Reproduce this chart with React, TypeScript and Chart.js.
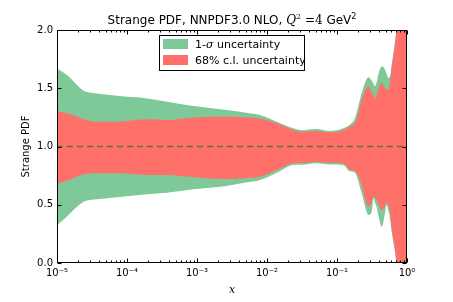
import { useEffect, useRef } from "react";
import { Chart, registerables } from "chart.js";
Chart.register(...registerables);

// log10(x) sample positions
const xLog10 = [-5.0, -4.857, -4.714, -4.62, -4.43, -4.14, -3.71, -3.43, -3.05, -2.58, -2.30, -2.10, -1.86, -1.62, -1.50, -1.31, -1.10, -0.91, -0.81, -0.743, -0.647, -0.55, -0.50, -0.48, -0.457, -0.43, -0.41, -0.36, -0.314, -0.29, -0.267, -0.243, -0.219, -0.171, -0.148, -0.10, 0.0];
const sigmaUpper = [1.67, 1.614, 1.528, 1.479, 1.456, 1.436, 1.413, 1.385, 1.348, 1.313, 1.29, 1.27, 1.213, 1.156, 1.14, 1.15, 1.133, 1.156, 1.19, 1.245, 1.46, 1.594, 1.56, 1.54, 1.517, 1.56, 1.616, 1.688, 1.66, 1.62, 1.588, 1.60, 1.70, 1.90, 2.02, 2.3, 2.8];
const clUpper = [1.30, 1.285, 1.256, 1.233, 1.213, 1.213, 1.233, 1.227, 1.25, 1.256, 1.25, 1.24, 1.199, 1.142, 1.126, 1.136, 1.122, 1.14, 1.175, 1.20, 1.40, 1.517, 1.46, 1.44, 1.416, 1.45, 1.50, 1.545, 1.50, 1.49, 1.488, 1.55, 1.68, 1.88, 2.0, 2.3, 2.8];
const clLower = [0.684, 0.707, 0.741, 0.761, 0.77, 0.77, 0.755, 0.755, 0.736, 0.721, 0.73, 0.741, 0.798, 0.856, 0.858, 0.87, 0.861, 0.855, 0.80, 0.79, 0.67, 0.483, 0.53, 0.569, 0.56, 0.541, 0.51, 0.455, 0.49, 0.526, 0.49, 0.44, 0.30, 0.11, -0.01, -0.3, -0.8];
const sigmaLower = [0.326, 0.40, 0.483, 0.526, 0.547, 0.564, 0.59, 0.604, 0.633, 0.661, 0.69, 0.712, 0.775, 0.841, 0.843, 0.856, 0.846, 0.84, 0.785, 0.775, 0.598, 0.412, 0.45, 0.555, 0.52, 0.47, 0.41, 0.31, 0.43, 0.498, 0.45, 0.384, 0.269, 0.097, -0.02, -0.3, -0.8];

const centralX = [1e-5, 1];
const centralY = [1.0, 1.0];

const xTickValues = [1e-5, 1e-4, 1e-3, 1e-2, 1e-1, 1];
const xTickLabels = ["10\u207B\u2075", "10\u207B\u2074", "10\u207B\u00B3", "10\u207B\u00B2", "10\u207B\u00B9", "10\u2070"];
const xMinorMultipliers = [2, 3, 4, 5, 6, 7, 8, 9];
const yTickValues = [0, 0.5, 1.0, 1.5, 2.0];

const legendLabels = ["1-", "68% c.l. uncertainty"];

const GREEN = "rgb(127,201,153)";
const RED = "rgb(255,112,106)";
const DASH = "rgb(88,122,36)";
const SANS = "'DejaVu Sans', sans-serif";
const SERIF = "'DejaVu Serif', serif";

function pts(ys: number[]) {
  return xLog10.map((lx, i) => ({ x: Math.pow(10, lx), y: ys[i] }));
}

function drawSegments(ctx: CanvasRenderingContext2D, segs: { t: string; f: string; dy?: number }[], x: number, y: number, align: "center" | "left") {
  let total = 0;
  for (const s of segs) { ctx.font = s.f; total += ctx.measureText(s.t).width; }
  let cx = align === "center" ? x - total / 2 : x;
  ctx.textAlign = "left";
  ctx.textBaseline = "alphabetic";
  for (const s of segs) {
    ctx.font = s.f;
    ctx.fillText(s.t, cx, y + (s.dy || 0));
    cx += ctx.measureText(s.t).width;
  }
}

const decor = {
  id: "decor",
  afterDraw(chart: any) {
    const { ctx, chartArea: a, scales } = chart;
    const xs = scales.x, ys = scales.y;
    ctx.save();
    ctx.strokeStyle = "#000";
    ctx.lineWidth = 1;
    const L = Math.round(a.left) + 0.5, R = Math.round(a.right) - 0.5;
    const T = Math.round(a.top) + 0.5, B = Math.round(a.bottom) - 0.5;
    ctx.strokeRect(L, T, R - L, B - T);
    ctx.beginPath();
    for (const v of xTickValues) {
      const p = Math.round(xs.getPixelForValue(v)) + 0.5;
      ctx.moveTo(p, B); ctx.lineTo(p, B - 4);
      ctx.moveTo(p, T); ctx.lineTo(p, T + 4);
    }
    for (let d = -5; d < 0; d++) {
      for (const m of xMinorMultipliers) {
        const p = Math.round(xs.getPixelForValue(m * Math.pow(10, d))) + 0.5;
        ctx.moveTo(p, B); ctx.lineTo(p, B - 2);
        ctx.moveTo(p, T); ctx.lineTo(p, T + 2);
      }
    }
    for (const v of yTickValues) {
      const p = Math.round(ys.getPixelForValue(v)) + 0.5;
      ctx.moveTo(L, p); ctx.lineTo(L + 4, p);
      ctx.moveTo(R, p); ctx.lineTo(R - 4, p);
    }
    ctx.stroke();

    // title
    ctx.fillStyle = "#000";
    const cx = (a.left + a.right) / 2;
    drawSegments(ctx, [
      { t: "Strange PDF, NNPDF3.0 NLO, ", f: `12px ${SANS}` },
      { t: "Q", f: `italic 12px ${SERIF}` },
      { t: "2", f: `8px ${SERIF}`, dy: -5 },
      { t: " =", f: `12px ${SERIF}` },
      { t: "4", f: `12px ${SERIF}` },
      { t: " GeV", f: `12px ${SANS}` },
      { t: "2", f: `8px ${SANS}`, dy: -5 },
    ], cx, 24, "center");

    // axis titles
    ctx.font = `italic 11px ${SERIF}`;
    ctx.textAlign = "center";
    ctx.textBaseline = "middle";
    ctx.fillText("x", cx, 290);
    ctx.save();
    ctx.translate(26, (a.top + a.bottom) / 2);
    ctx.rotate(-Math.PI / 2);
    ctx.font = `10px ${SANS}`;
    ctx.fillText("Strange PDF", 0, 0);
    ctx.restore();

    // legend
    ctx.fillStyle = "#fff";
    ctx.fillRect(159.5, 35.5, 145, 35);
    ctx.strokeRect(159.5, 35.5, 145, 35);
    ctx.fillStyle = GREEN;
    ctx.fillRect(163, 39, 25, 10);
    ctx.fillStyle = RED;
    ctx.fillRect(163, 55, 25, 10);
    ctx.fillStyle = "#000";
    drawSegments(ctx, [
      { t: legendLabels[0], f: `11px ${SANS}` },
      { t: "\u03C3", f: `italic 11px ${SERIF}` },
      { t: " uncertainty", f: `11px ${SANS}` },
    ], 195, 48, "left");
    drawSegments(ctx, [{ t: legendLabels[1], f: `11px ${SANS}` }], 195, 64, "left");
    ctx.restore();
  },
};

export default function App() {
  const ref = useRef<HTMLCanvasElement>(null);
  useEffect(() => {
    document.body.style.margin = "0";
    const base = { pointRadius: 0, borderWidth: 0, borderColor: "rgba(0,0,0,0)", cubicInterpolationMode: "monotone" as const };
    const chart = new Chart(ref.current!, {
      type: "line",
      data: {
        datasets: [
          {
            label: "central", data: centralX.map((x, i) => ({ x, y: centralY[i] })),
            borderColor: DASH, borderWidth: 1.5, borderDash: [6, 4], pointRadius: 0, fill: false, order: 0,
          },
          { ...base, label: "68% c.l. uncertainty", data: pts(clUpper), fill: "+1", backgroundColor: RED, order: 1 },
          { ...base, label: "cl lower", data: pts(clLower), fill: false, order: 1 },
          { ...base, label: "1-sigma uncertainty", data: pts(sigmaUpper), fill: "+1", backgroundColor: GREEN, order: 2 },
          { ...base, label: "sigma lower", data: pts(sigmaLower), fill: false, order: 2 },
        ] as any,
      },
      options: {
        animation: false,
        responsive: false,
        devicePixelRatio: 1,
        layout: { padding: { top: 30, right: 46, left: 0, bottom: 0 } },
        plugins: { legend: { display: false }, title: { display: false }, tooltip: { enabled: false } },
        scales: {
          x: {
            type: "logarithmic", min: 1e-5, max: 1,
            grid: { display: false, drawTicks: false }, border: { display: false },
            afterBuildTicks: (s: any) => { s.ticks = xTickValues.map((v) => ({ value: v })); },
            afterFit: (s: any) => { s.height = 39; },
            ticks: {
              autoSkip: false, maxRotation: 0, padding: 4, color: "#000",
              font: { family: SANS, size: 10 },
              callback: (_v: any, i: number) => xTickLabels[i],
            },
          },
          y: {
            type: "linear", min: 0, max: 2,
            grid: { display: false, drawTicks: false }, border: { display: false },
            afterBuildTicks: (s: any) => { s.ticks = yTickValues.map((v) => ({ value: v })); },
            afterFit: (s: any) => { s.width = 57; },
            ticks: {
              padding: 4, color: "#000",
              font: { family: SANS, size: 10 },
              callback: (v: any) => Number(v).toFixed(1),
            },
          },
        },
      } as any,
      plugins: [decor],
    });
    return () => chart.destroy();
  }, []);
  return (
    <div style={{ position: "absolute", left: 0, top: 0, width: 453, height: 302 }}>
      <canvas ref={ref} width={453} height={302} />
    </div>
  );
}
